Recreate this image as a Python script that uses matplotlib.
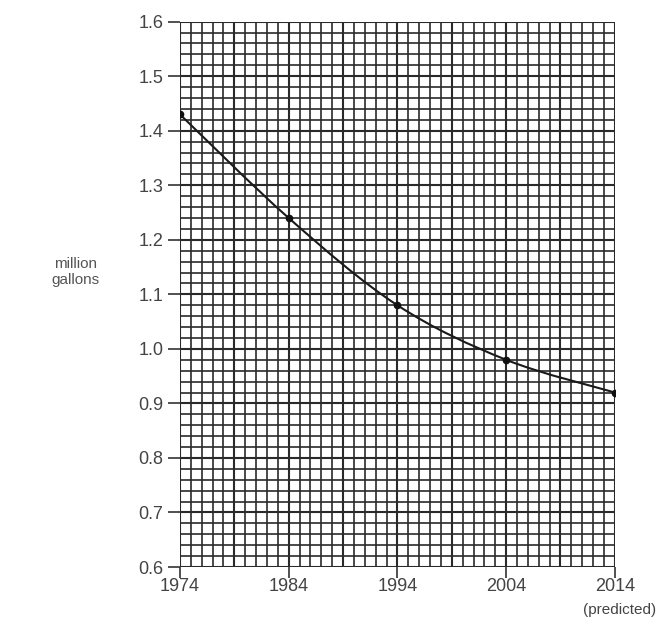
"""
Million gallons per year, 1974-2014 (predicted), on graph paper
"""
import matplotlib
matplotlib.use("Agg")
import matplotlib.pyplot as plt
from matplotlib.path import Path
from matplotlib.patches import PathPatch
import numpy as np

years = [1974, 1984, 1994, 2004, 2014]
gallons = [1.43, 1.24, 1.08, 0.98, 0.92]
x_ticks = [1974, 1984, 1994, 2004, 2014]
x_labels = ["1974", "1984", "1994", "2004", "2014"]
y_ticks = [0.6, 0.7, 0.8, 0.9, 1.0, 1.1, 1.2, 1.3, 1.4, 1.5, 1.6]


def smooth_path(xs, ys):
    """Catmull-Rom through the points, as cubic bezier segments"""
    pts = np.column_stack([xs, ys]).astype(float)
    verts = [pts[0]]
    codes = [Path.MOVETO]
    for i in range(len(pts) - 1):
        p0 = pts[i - 1] if i > 0 else pts[i]
        p1, p2 = pts[i], pts[i + 1]
        p3 = pts[i + 2] if i + 2 < len(pts) else pts[i + 1]
        verts += [p1 + (p2 - p0) / 6, p2 - (p3 - p1) / 6, p2]
        codes += [Path.CURVE4] * 3
    return Path(verts, codes)


plt.rcParams["font.family"] = ["Liberation Sans", "DejaVu Sans"]
fig = plt.figure(figsize=(6.64, 6.24), dpi=100)
ax = fig.add_axes([0.271, 0.0913, 0.655, 0.874])

ax.set_xlim(1974, 2014)
ax.set_ylim(0.6, 1.6)

# graph paper: 1 year by 0.02 cells, a bit heavier every 5 years / 0.1
for yr in range(1974, 2015):
    lw = 1.5 if (yr - 1974) % 5 == 0 else 1.2
    ax.axvline(yr, color="#2a2a2a", lw=lw, zorder=1)
for k in range(0, 51):
    lw = 1.5 if k % 5 == 0 else 1.2
    ax.axhline(0.6 + k * 0.02, color="#2a2a2a", lw=lw, zorder=1)

# curve and data points
ax.add_patch(PathPatch(smooth_path(years, gallons), fill=False,
                       edgecolor="#1a1a1a", lw=1.5, zorder=3))
ax.plot(years, gallons, linestyle="None", marker="o", markersize=4.5,
        color="#111111", zorder=4)

for side in ax.spines.values():
    side.set_visible(False)

ax.set_xticks(x_ticks)
ax.set_xticklabels(x_labels)
ax.set_yticks(y_ticks)
ax.set_yticklabels([f"{v:.1f}" for v in y_ticks])
ax.tick_params(axis="both", direction="out", width=1.2,
               color="#333333", labelcolor="#444444", labelsize=13)
ax.tick_params(axis="x", length=8, pad=0)
ax.tick_params(axis="y", length=9, pad=3)

ax.text(-0.241, 0.541, "million\ngallons", transform=ax.transAxes,
        ha="center", va="center", fontsize=11, color="#555555",
        linespacing=1.1)
ax.text(1.01, -0.078, "(predicted)", transform=ax.transAxes,
        ha="center", va="center", fontsize=11, color="#444444")

fig.savefig("out.png", dpi=100)
